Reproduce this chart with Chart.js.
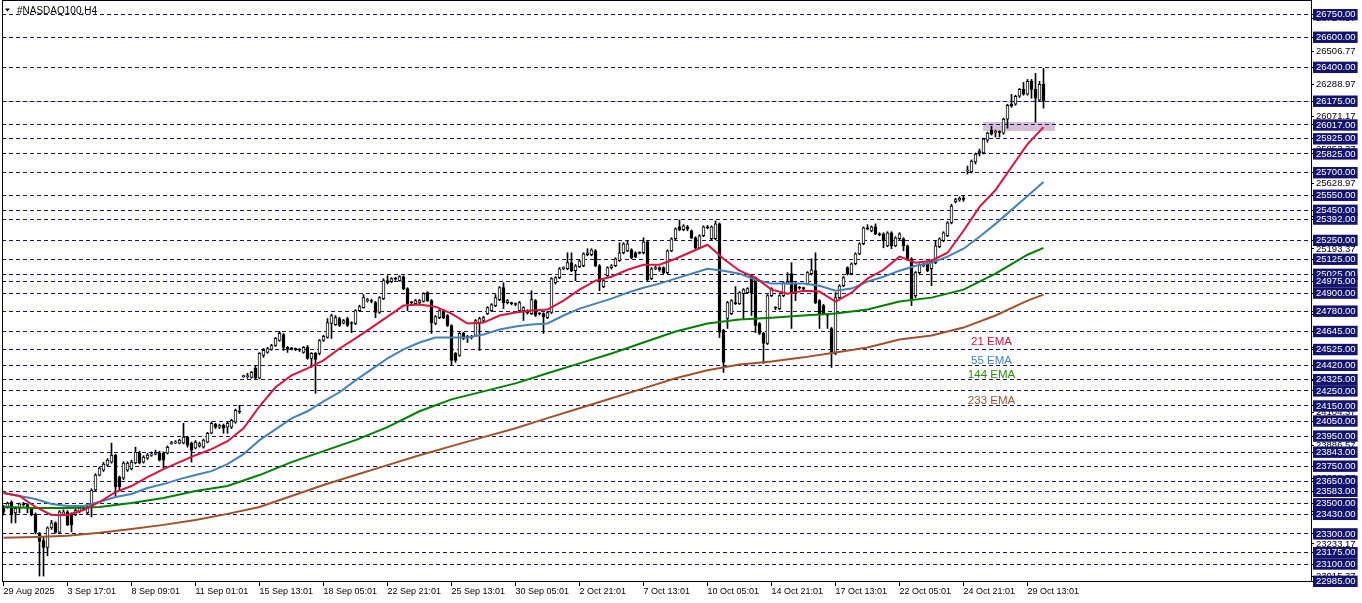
<!DOCTYPE html>
<html><head><meta charset="utf-8">
<script src="https://cdn.jsdelivr.net/npm/chart.js@4.4.0/dist/chart.umd.min.js"></script>
<style>html,body{margin:0;padding:0;background:#fff;}canvas{display:block;}</style>
</head><body>
<canvas id="c" width="1362" height="603"></canvas>
<script>
const symbolTitle = '#NASDAQ100,H4';
const timeLabels = ['29 Aug 2025','3 Sep 17:01','8 Sep 09:01','11 Sep 01:01','15 Sep 13:01','18 Sep 05:01','22 Sep 21:01','25 Sep 13:01','30 Sep 05:01','2 Oct 21:01','7 Oct 13:01','10 Oct 05:01','14 Oct 21:01','17 Oct 13:01','22 Oct 05:01','24 Oct 21:01','29 Oct 13:01'];
const timeLabelBars = [0,16,32,48,64,80,96,112,128,144,160,176,192,208,224,240,256];

const open = [23480,23479,23512,23440,23470,23500,23495,23470,23430,23300,
23255,23210,23340,23373,23310,23430,23446,23426,23426,23446,
23470,23440,23479,23592,23690,23724,23757,23777,23823,23678,
23671,23724,23731,23771,23837,23777,23804,23823,23830,23837,
23837,23837,23900,23905,23903,23903,23943,23903,23870,23885,
23876,23910,23969,24029,24009,24022,24009,24009,24042,24115,
24345,24345,24340,24400,24334,24486,24506,24526,24552,24585,
24625,24539,24532,24530,24526,24506,24539,24466,24499,24499,
24585,24605,24698,24691,24731,24700,24731,24704,24698,24784,
24804,24850,24850,24837,24771,24863,24983,24976,24996,24983,
25009,24930,24837,24830,24835,24844,24903,24850,24698,24737,
24784,24751,24685,24499,24486,24632,24605,24612,24618,24698,
24718,24764,24784,24817,24857,24936,24837,24832,24828,24784,
24784,24784,24764,24850,24764,24764,24737,24771,24969,25003,
25062,25062,25102,25049,25075,25082,25155,25155,25181,25082,
24943,25016,25069,25082,25115,25168,25181,25188,25168,25168,
25168,25241,24996,25062,25069,25069,25036,25181,25261,25340,
25321,25340,25314,25268,25201,25281,25340,25261,25261,25360,
24652,24731,24764,24837,24830,24896,24903,25016,24996,24698,
24632,24565,24883,24804,24797,24883,24969,25029,24963,24936,
24933,24963,25029,25049,24850,24817,24755,24665,24499,24870,
24949,25069,25029,25095,25161,25228,25334,25314,25340,25294,
25294,25214,25301,25214,25261,25261,25214,25128,24883,25036,
25082,25095,25062,25102,25208,25248,25281,25367,25506,25519,
25530,25711,25705,25771,25831,25831,25917,25983,25968,25970,
25963,26056,26155,26155,26208,26254,26221,26307,26254,26182,
26288];
const high = [23490,23512,23520,23480,23505,23510,23500,23475,23440,23310,
23280,23347,23390,23380,23455,23460,23455,23440,23470,23485,
23490,23495,23600,23700,23745,23775,23800,23903,23830,23685,
23780,23780,23790,23876,23850,23820,23835,23845,23857,23850,
23845,23885,23915,23920,23930,24035,23950,23910,23920,23910,
23930,23975,24045,24035,24030,24030,24042,24062,24130,24155,
24355,24367,24380,24420,24505,24532,24540,24560,24605,24645,
24632,24545,24540,24535,24532,24545,24552,24505,24505,24592,
24620,24731,24760,24751,24740,24725,24740,24710,24790,24820,
24890,24865,24860,24845,24877,24996,25016,25003,25005,25016,
25016,24936,24845,24858,24858,24903,24910,24857,24751,24790,
24790,24757,24690,24505,24638,24640,24620,24620,24725,24740,
24745,24810,24830,24890,24943,24969,24857,24840,24835,24845,
24810,24790,24916,24857,24770,24770,24778,25003,25010,25070,
25075,25168,25168,25090,25122,25168,25195,25195,25190,25090,
24990,25075,25090,25135,25234,25235,25248,25195,25175,25175,
25268,25250,25070,25080,25075,25075,25188,25268,25334,25386,
25355,25350,25320,25275,25288,25347,25350,25347,25380,25367,
24660,24845,24857,24943,24910,24930,24936,25025,25003,24705,
24640,24890,24936,24810,24890,24976,25036,25102,24970,24945,
24940,25043,25128,25168,24857,24825,24760,24672,24903,24956,
25010,25075,25102,25168,25235,25340,25355,25347,25360,25301,
25301,25308,25308,25275,25301,25268,25220,25135,25043,25095,
25102,25102,25122,25248,25268,25308,25375,25490,25530,25540,
25546,25744,25785,25831,25857,25930,25970,26009,25983,25978,
26062,26155,26221,26215,26260,26300,26320,26320,26360,26307,
26394];
const low = [23425,23470,23373,23373,23440,23485,23440,23420,23300,23020,
23020,23155,23330,23305,23300,23425,23355,23313,23420,23440,
23455,23430,23413,23585,23685,23715,23750,23770,23545,23592,
23660,23715,23725,23765,23765,23770,23795,23815,23825,23785,
23737,23830,23895,23900,23898,23898,23876,23777,23865,23876,
23870,23905,23965,24000,24000,23969,23969,24000,24035,24100,
24340,24334,24334,24330,24330,24473,24500,24520,24545,24580,
24519,24506,24522,24518,24512,24500,24460,24406,24234,24490,
24580,24600,24599,24685,24678,24695,24678,24638,24690,24778,
24800,24840,24835,24737,24765,24857,24960,24970,24985,24978,
24923,24784,24825,24824,24830,24840,24845,24632,24690,24730,
24730,24678,24420,24440,24480,24590,24572,24595,24612,24519,
24710,24757,24778,24810,24850,24797,24828,24822,24815,24778,
24718,24760,24757,24744,24755,24632,24730,24764,24960,24996,
25055,25055,25042,24983,25070,25075,25148,25148,25075,24916,
24936,25010,25060,25075,25110,25160,25175,25128,25135,25160,
25160,24976,24990,25055,25045,25029,25029,25175,25255,25314,
25314,25314,25261,25195,25195,25275,25327,25255,25255,24605,
24373,24665,24757,24824,24824,24731,24896,24751,24638,24625,
24433,24558,24876,24790,24790,24876,24960,24665,24850,24925,
24920,24955,25020,24830,24665,24757,24665,24406,24490,24863,
24943,25020,25022,25088,25155,25221,25320,25307,25288,25281,
25201,25208,25195,25208,25255,25181,25115,24817,24870,25029,
25075,25042,24949,25095,25201,25241,25275,25360,25499,25510,
25510,25691,25698,25758,25811,25824,25903,25950,25937,25937,
25956,25996,26135,26148,26200,26215,26215,26195,26036,26175,
26129];
const close = [23445,23505,23426,23470,23500,23495,23470,23430,23310,23250,
23210,23340,23373,23310,23446,23446,23360,23360,23459,23472,
23465,23479,23592,23691,23737,23764,23790,23823,23612,23612,
23771,23771,23777,23843,23771,23810,23823,23830,23843,23790,
23790,23876,23905,23910,23923,23943,23890,23857,23910,23900,
23923,23969,24035,24009,24020,24002,24035,24055,24121,24110,
24348,24350,24373,24334,24499,24519,24532,24552,24599,24632,
24539,24526,24530,24526,24520,24539,24466,24499,24459,24585,
24612,24704,24751,24737,24685,24718,24685,24698,24784,24810,
24870,24855,24844,24771,24870,24983,24969,24996,24993,25009,
24930,24830,24835,24850,24850,24896,24850,24704,24744,24784,
24737,24685,24453,24453,24632,24599,24612,24605,24718,24731,
24737,24804,24824,24870,24936,24837,24850,24830,24824,24837,
24804,24770,24857,24751,24762,24744,24771,24996,25003,25062,
25069,25102,25049,25082,25115,25161,25168,25188,25082,24983,
24983,25069,25082,25128,25168,25228,25228,25135,25142,25166,
25241,24989,25062,25069,25055,25036,25181,25261,25327,25321,
25347,25327,25268,25201,25281,25340,25334,25340,25360,24638,
24439,24837,24850,24830,24903,24923,24930,24903,24685,24632,
24565,24883,24930,24800,24883,24969,24972,24896,24896,24933,
24930,25036,25055,24837,24764,24764,24751,24499,24870,24949,
25003,25029,25095,25161,25228,25334,25327,25340,25294,25288,
25248,25301,25214,25268,25294,25214,25128,24863,25036,25088,
25090,25049,25115,25214,25261,25301,25367,25479,25522,25530,
25522,25718,25778,25824,25844,25923,25963,25956,25972,25968,
26056,26148,26142,26208,26254,26221,26307,26254,26195,26288,
26175];

const emaBarsFine = [0,4,8,12,16,20,24,28,32,36,40,44,48,52,56,60,64,68,72,76,80,84,88,92,96,100,104,108,112,116,120,124,128,132,136,140,144,148,152,156,160,164,168,172,176,180,184,188,192,196,200,204,208,212,216,220,224,228,232,236,240,244,248,252,256,260];
const ema21 = [23572,23552,23479,23426,23426,23459,23512,23578,23618,23678,23731,23777,23823,23863,23916,24002,24148,24274,24353,24400,24453,24532,24599,24671,24744,24817,24824,24810,24764,24698,24704,24751,24771,24784,24791,24850,24923,24983,25009,25055,25088,25088,25128,25175,25221,25128,25049,25003,24923,24896,24916,24910,24844,24903,24996,25055,25142,25102,25115,25168,25314,25473,25585,25738,25890,26003];
const ema55 = [23572,23552,23532,23499,23486,23486,23512,23545,23565,23605,23631,23664,23691,23717,23764,23830,23923,23995,24068,24115,24181,24241,24320,24393,24466,24526,24572,24605,24605,24605,24625,24658,24678,24691,24698,24751,24797,24830,24863,24903,24936,24963,24996,25029,25062,25049,25029,24989,24963,24963,24963,24949,24916,24930,24976,25009,25049,25082,25102,25142,25195,25274,25360,25453,25546,25638];
const emaBarsCoarse = [0,8,16,24,32,40,48,56,64,72,80,88,96,104,112,120,128,136,144,152,160,168,176,184,192,200,208,216,224,232,240,248,256,260];
const ema144 = [23479,23472,23472,23479,23506,23539,23585,23618,23691,23777,23850,23923,24009,24115,24194,24247,24300,24367,24433,24499,24572,24645,24698,24724,24737,24751,24764,24791,24844,24870,24923,25029,25155,25201];
const ema233 = [23274,23280,23287,23307,23333,23360,23393,23433,23479,23552,23625,23691,23757,23823,23883,23943,24002,24069,24135,24201,24267,24334,24387,24426,24446,24473,24506,24539,24592,24618,24671,24751,24850,24890];

const levelPrices = [26750,26600,26400,26175,26017,25925,25825,25700,25550,25450,25392,25250,25125,25025,24975,24900,24780,24645,24525,24420,24325,24250,24150,24050,23950,23843,23750,23650,23583,23500,23430,23300,23175,23100,22985];
const scalePrices = [26724.57,26506.77,26288.97,26071.17,25853.37,25628.97,25411.17,25193.37,24975.57,24757.77,24539.97,24322.17,24104.37,23886.57,23668.77,23450.97,23233.17,23015.37];
const bidPrice = 26175;
const zonePrices = [25978, 26040];
const zoneBars = [244.9, 262.9];
const emaLabelText = ['21 EMA','55 EMA','144 EMA','233 EMA'];
const emaLabelPrice = [24575, 24449, 24358, 24181];
const emaLabelBar = 247;
const emaColors = ['#dc143c','#4682b4','#008000','#a0522d'];
const emaLabelColors = ['#dc143c','#4682b4','#2a8a00','#a0522d'];

const NAVY = '#14146e';
const levelSet = new Set(levelPrices);
const barIdx = open.map((_, i) => i);

Chart.defaults.font.family = "'Liberation Sans', Arial, sans-serif";

const decor = {
  id: 'decor',
  beforeDraw(chart) {
    const {ctx, chartArea: a, scales: {x, y}} = chart;
    ctx.save();
    ctx.fillStyle = '#fff';
    ctx.fillRect(0, 0, chart.width, chart.height);
    const x1 = x.getPixelForValue(zoneBars[0]), x2 = x.getPixelForValue(zoneBars[1]);
    const y1 = y.getPixelForValue(zonePrices[1]), y2 = y.getPixelForValue(zonePrices[0]);
    ctx.fillStyle = '#d8bfd8';
    ctx.fillRect(Math.round(x1), Math.round(y1), Math.round(x2 - x1), Math.round(y2 - y1));
    const by = Math.round(y.getPixelForValue(bidPrice) - 0.5) + 0.5;
    ctx.strokeStyle = '#c0c0c0'; ctx.lineWidth = 1;
    ctx.beginPath(); ctx.moveTo(a.left, by); ctx.lineTo(a.right, by); ctx.stroke();
    ctx.restore();
  },
  afterDraw(chart) {
    const {ctx, chartArea: a, scales: {x, y}} = chart;
    ctx.save();
    ctx.strokeStyle = '#000'; ctx.lineWidth = 1;
    ctx.strokeRect(2.5, 0.5, a.right - 2, a.bottom - 1);
    ctx.fillStyle = '#000';
    ctx.beginPath(); ctx.moveTo(5, 8.5); ctx.lineTo(10, 8.5); ctx.lineTo(7.5, 11.5); ctx.closePath(); ctx.fill();
    ctx.font = "10px 'Liberation Sans', Arial, sans-serif";
    ctx.textBaseline = 'alphabetic'; ctx.textAlign = 'left';
    ctx.fillText(symbolTitle, 17, 13.5);
    ctx.font = "11.5px 'Liberation Sans', Arial, sans-serif";
    ctx.textAlign = 'center'; ctx.textBaseline = 'middle';
    const lx = x.getPixelForValue(emaLabelBar);
    emaLabelText.forEach((t, i) => {
      ctx.fillStyle = emaLabelColors[i];
      ctx.fillText(t, lx, y.getPixelForValue(emaLabelPrice[i]));
    });
    ctx.restore();
  }
};

const emaDs = (bars, vals, color) => ({
  type: 'line',
  data: bars.map((b, i) => ({x: b, y: vals[i]})),
  borderColor: color, borderWidth: 2, pointRadius: 0, tension: 0, fill: false, order: 0
});

const noPad = s => { s.paddingTop = 0; s.paddingBottom = 0; s.paddingLeft = 0; s.paddingRight = 0; };

new Chart(document.getElementById('c'), {
  type: 'bar',
  data: {
    datasets: [
      emaDs(emaBarsFine, ema21, emaColors[0]),
      emaDs(emaBarsFine, ema55, emaColors[1]),
      emaDs(emaBarsCoarse, ema144, emaColors[2]),
      emaDs(emaBarsCoarse, ema233, emaColors[3]),
      {
        type: 'bar',
        data: barIdx.map(i => ({x: i, y: [open[i], close[i]]})),
        backgroundColor: barIdx.map(i => close[i] >= open[i] ? '#ffffff' : '#000000'),
        borderColor: '#000', borderWidth: 1, borderSkipped: false,
        barThickness: 3, grouped: false, minBarLength: 1, order: 1
      },
      {
        type: 'bar',
        data: barIdx.map(i => ({x: i, y: [low[i], high[i]]})),
        backgroundColor: '#000', borderWidth: 0,
        barThickness: 1, grouped: false, order: 2
      }
    ]
  },
  options: {
    responsive: false, animation: false, devicePixelRatio: 1, events: [],
    layout: {padding: {left: 2, top: 1, right: 0, bottom: 0}},
    plugins: {legend: {display: false}, tooltip: {enabled: false}, title: {display: false}},
    scales: {
      x: {
        type: 'linear', min: -0.375, max: 326.875, offset: false,
        afterBuildTicks: s => { s.ticks = timeLabelBars.map(v => ({value: v})); },
        afterFit: s => { s.height = 21; noPad(s); },
        border: {display: false},
        grid: {offset: false, drawOnChartArea: false, drawTicks: true, tickLength: 4, tickColor: '#000', color: 'rgba(0,0,0,0)'},
        ticks: {autoSkip: false, maxRotation: 0, minRotation: 0, align: 'start', padding: 0, color: '#000',
          font: {size: 9}, callback: (v, i) => timeLabels[i]}
      },
      y: {
        type: 'linear', position: 'right', min: 22980.4, max: 26840.9,
        afterBuildTicks: s => { s.ticks = scalePrices.concat(levelPrices).map(v => ({value: v})); },
        afterFit: s => { s.width = 51; noPad(s); },
        border: {display: false, dash: [4, 3]},
        grid: {
          color: c => (c.tick && levelSet.has(c.tick.value)) ? NAVY : 'rgba(0,0,0,0)',
          borderDash: [4, 3], lineWidth: 1, drawTicks: true, tickLength: 3,
          tickColor: '#000', tickBorderDash: []
        },
        ticks: {
          autoSkip: false, padding: 2, font: {size: 9.5},
          color: c => (c.tick && levelSet.has(c.tick.value)) ? '#ffffff' : '#000000',
          showLabelBackdrop: c => !!(c.tick && levelSet.has(c.tick.value)),
          backdropColor: NAVY,
          backdropPadding: {left: 3, right: 2, top: 0, bottom: 0},
          callback: v => Number(v).toFixed(2)
        }
      }
    }
  },
  plugins: [decor]
});
</script>
</body></html>
